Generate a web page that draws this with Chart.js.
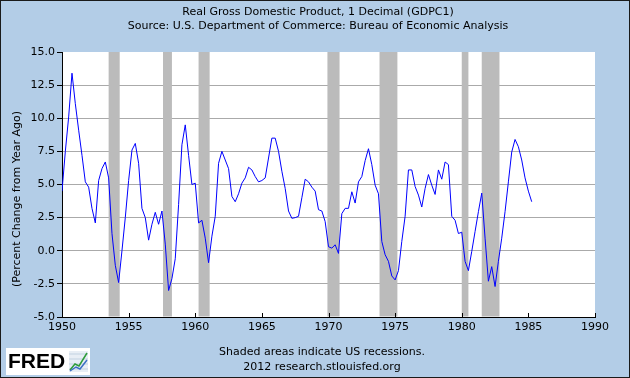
<!DOCTYPE html>
<html>
<head>
<meta charset="utf-8">
<script src="https://cdn.jsdelivr.net/npm/chart.js@4.4.1/dist/chart.umd.min.js"></script>
<style>
  html, body { margin: 0; padding: 0; background: #B3CDE7; }
  #wrap { width: 630px; height: 378px; }
</style>
</head>
<body>
<div id="wrap"><canvas id="myChart" width="630" height="378"></canvas></div>
<script>
// quarterly real GDP, percent change from year ago, 1950 Q1 .. 1985 Q2
const startYear = 1950;
const gdpChange = [
  4.5, 7.5, 10.1, 13.4,
  11.1, 9.1, 7.2, 5.2,
  4.8, 3.2, 2.1, 5.3,
  6.2, 6.7, 5.5, 1.3,
  -1.1, -2.4, 0.0, 2.5,
  5.3, 7.6, 8.1, 6.6,
  3.2, 2.5, 0.8, 2.0,
  2.9, 2.0, 3.0, 0.5,
  -3.0, -2.1, -0.6, 3.5,
  8.0, 9.5, 7.2, 5.0,
  5.1, 2.1, 2.3, 0.95,
  -0.9, 1.1, 2.6, 6.6,
  7.5, 6.85, 6.2, 4.1,
  3.7, 4.3, 5.1, 5.5,
  6.3, 6.1, 5.6, 5.2,
  5.3, 5.5, 7.0, 8.5,
  8.5, 7.5, 6.0, 4.7,
  3.0, 2.45, 2.5, 2.6,
  4.0, 5.4, 5.2, 4.8,
  4.5, 3.1, 3.0, 2.2,
  0.3, 0.2, 0.45, -0.2,
  2.8, 3.2, 3.2, 4.45,
  3.6, 5.2, 5.6, 6.8,
  7.7, 6.5, 4.95, 4.3,
  0.7, -0.3, -0.8, -1.9,
  -2.2, -1.5, 0.7, 2.6,
  6.1, 6.1, 4.85, 4.2,
  3.3, 4.7, 5.75, 4.95,
  4.25, 6.1, 5.4, 6.7,
  6.5, 2.6, 2.3, 1.3,
  1.4, -0.8, -1.5, -0.05,
  1.45, 2.95, 4.35, 0.95,
  -2.3, -1.2, -2.7, -0.8,
  0.95, 2.95, 5.2, 7.45,
  8.4, 7.85, 6.85, 5.5,
  4.5, 3.7
];

// recession start / end (decimal years, monthly)
const recessionStart = [1953.5, 1957.58, 1960.25, 1969.92, 1973.83, 1980.0, 1981.5];
const recessionEnd   = [1954.33, 1958.25, 1961.08, 1970.83, 1975.17, 1980.5, 1982.83];

const xTicks = [1950, 1955, 1960, 1965, 1970, 1975, 1980, 1985, 1990];
const yTicks = [-5, -2.5, 0, 2.5, 5, 7.5, 10, 12.5, 15];

const titleText = "Real Gross Domestic Product, 1 Decimal (GDPC1)";
const subtitleText = "Source: U.S. Department of Commerce: Bureau of Economic Analysis";
const yTitle = "(Percent Change from Year Ago)";
const noteLines = ["Shaded areas indicate US recessions.", "2012 research.stlouisfed.org"];

const points = gdpChange.map((v, i) => ({ x: startYear + i / 4, y: v }));

const FONT = "DejaVu Sans";

const fredPlugin = {
  id: "fred",
  beforeDraw(chart) {
    const c = chart.ctx, a = chart.chartArea;
    c.save();
    c.fillStyle = "#B3CDE7";
    c.fillRect(0, 0, chart.width, chart.height);
    c.fillStyle = "#ffffff";
    c.fillRect(a.left, a.top, a.right - a.left, a.bottom - a.top);
    c.restore();
  },
  beforeDatasetsDraw(chart) {
    const c = chart.ctx, a = chart.chartArea, xs = chart.scales.x;
    c.save();
    c.fillStyle = "#BBBBBB";
    for (let i = 0; i < recessionStart.length; i++) {
      const x0 = xs.getPixelForValue(recessionStart[i]);
      const x1 = xs.getPixelForValue(recessionEnd[i]);
      c.fillRect(x0, a.top, x1 - x0, a.bottom - a.top - 0.5);
    }
    c.restore();
  },
  afterDraw(chart) {
    const c = chart.ctx, a = chart.chartArea, xs = chart.scales.x;
    c.save();
    // inward x ticks
    c.strokeStyle = "#000";
    c.lineWidth = 1;
    xTicks.forEach(t => {
      const x = Math.round(xs.getPixelForValue(t)) + 0.5;
      c.beginPath();
      c.moveTo(x, a.bottom);
      c.lineTo(x, a.bottom - 4);
      c.stroke();
    });
    // titles
    c.fillStyle = "#000";
    c.font = "11px '" + FONT + "'";
    c.textAlign = "center";
    c.textBaseline = "middle";
    c.fillText(titleText, 318, 12);
    c.fillText(subtitleText, 318, 26);
    c.fillText(noteLines[0], 322, 352);
    c.fillText(noteLines[1], 322, 367);
    // y title
    c.save();
    c.translate(17, 199);
    c.rotate(-Math.PI / 2);
    c.fillText(yTitle, 0, 0);
    c.restore();
    // FRED logo
    c.fillStyle = "#fff";
    c.fillRect(6, 348, 84, 27);
    c.fillStyle = "#000";
    c.font = "bold 21px 'Liberation Sans'";
    c.textAlign = "left";
    c.fillText("FRED", 8, 362);
    c.fillStyle = "#e8eef5";
    c.fillRect(69, 351, 19, 21);
    c.strokeStyle = "#9fb6cc";
    c.lineWidth = 0.5;
    for (let g = 0; g < 4; g++) {
      c.beginPath();
      c.moveTo(69, 354 + g * 5);
      c.lineTo(88, 354 + g * 5);
      c.stroke();
    }
    c.lineWidth = 1.5;
    c.strokeStyle = "#2e9c3a";
    c.beginPath();
    c.moveTo(70, 370); c.lineTo(75, 364); c.lineTo(79, 366); c.lineTo(87, 353);
    c.stroke();
    c.strokeStyle = "#3b6fc4";
    c.beginPath();
    c.moveTo(70, 371); c.lineTo(76, 367); c.lineTo(80, 369); c.lineTo(87, 360);
    c.stroke();
    // outer frame
    c.strokeStyle = "#1a1a1a";
    c.lineWidth = 1;
    c.strokeRect(0.5, 0.5, chart.width - 1, chart.height - 1);
    c.restore();
  }
};

new Chart(document.getElementById("myChart"), {
  type: "line",
  data: {
    datasets: [{
      data: points,
      borderColor: "#0000FF",
      borderWidth: 1,
      pointRadius: 0,
      tension: 0,
      fill: false
    }]
  },
  options: {
    responsive: false,
    animation: false,
    events: [],
    layout: { padding: { top: 52, right: 35, bottom: 39, left: 0 } },
    plugins: {
      legend: { display: false },
      tooltip: { enabled: false }
    },
    scales: {
      x: {
        type: "linear",
        min: 1950,
        max: 1990,
        afterBuildTicks: s => { s.ticks = xTicks.map(v => ({ value: v })); },
        afterFit: s => { s.height = 22; },
        grid: { display: false, drawTicks: false },
        border: { display: true, color: "#000", width: 1 },
        ticks: {
          padding: 4,
          color: "#000",
          font: { family: FONT, size: 11 },
          maxRotation: 0,
          callback: v => String(v)
        }
      },
      y: {
        min: -5,
        max: 15,
        afterBuildTicks: s => { s.ticks = yTicks.map(v => ({ value: v })); },
        afterFit: s => { s.width = 62; },
        grid: {
          color: ctx => (ctx.tick && (ctx.tick.value === 15 || ctx.tick.value === -5)) ? "rgba(0,0,0,0)" : "#AAAAAA",
          tickColor: "#000",
          tickLength: 5,
          drawTicks: true
        },
        border: { display: true, color: "#000", width: 1 },
        ticks: {
          padding: 2,
          color: "#000",
          font: { family: FONT, size: 11 },
          callback: v => v.toFixed(1)
        }
      }
    }
  },
  plugins: [fredPlugin]
});
</script>
</body>
</html>
